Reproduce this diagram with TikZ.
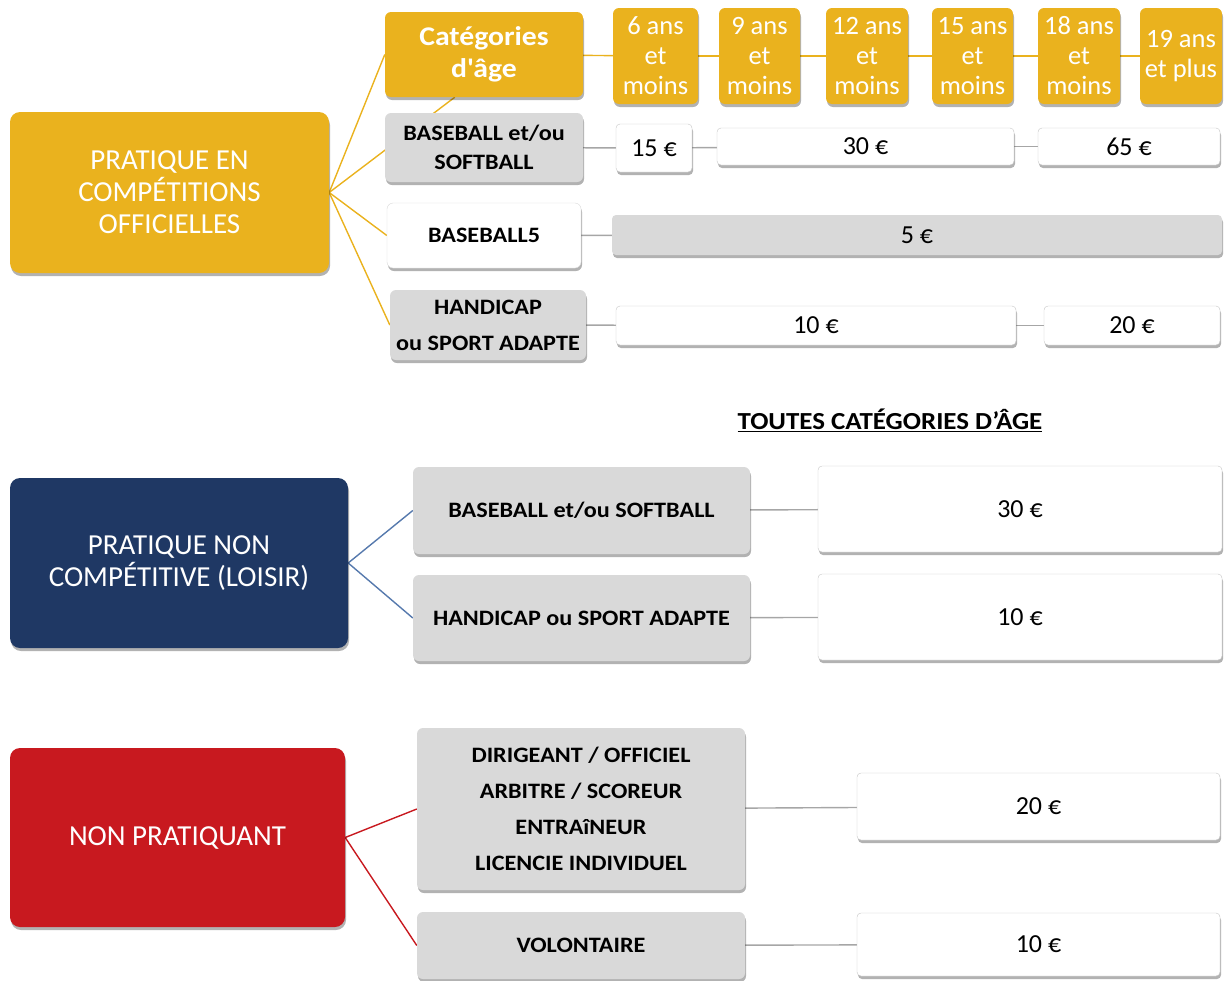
\documentclass[tikz,border=0pt]{standalone}
\usepackage{fontspec}
\setmainfont{Carlito}
\newfontfamily\gras{Carlito}[FakeStretch=1.1]
\usetikzlibrary{shadows,backgrounds}
\definecolor{jaune}{HTML}{EAB21E}
\definecolor{marine}{HTML}{1F3864}
\definecolor{rouge}{HTML}{C8191F}
\definecolor{gris}{HTML}{D9D9D9}
\definecolor{trait}{HTML}{A6A6A6}
\definecolor{bleu}{HTML}{5679AD}
\tikzset{
  ombre/.style={drop shadow={shadow xshift=1pt,shadow yshift=-3pt,opacity=.3,fill=black}},
  bloc/.style={ombre, rounded corners=10pt, text=white, align=center, inner sep=0pt,
    font=\fontsize{29}{32}\selectfont},
  age/.style={ombre, fill=jaune, rounded corners=6pt, text=white, align=center, inner sep=0pt,
    minimum height=96pt, font=\fontsize{26.5}{30}\selectfont},
  rubrique/.style={ombre, fill=gris, rounded corners=6pt, align=center, inner sep=0pt,
    font=\gras\bfseries\fontsize{22}{36}\selectfont},
  prix/.style={ombre, fill=white, draw=black!22, rounded corners=4pt, inner sep=0pt,
    font=\fontsize{26}{28}\selectfont},
  lien/.style={line width=1.4pt},
}
\begin{document}
\begin{tikzpicture}[x=1pt,y=-1pt]
\useasboundingbox (0,0) rectangle (1228,980);
% competitions officielles
\node[bloc, fill=jaune, minimum width=319pt, minimum height=161pt] (PC) at (169.5,192.5) {PRATIQUE EN\\COMPÉTITIONS\\OFFICIELLES};
\node[rubrique, fill=jaune, text=white, minimum width=198pt, minimum height=85pt,
  font=\gras\bfseries\fontsize{27}{32}\selectfont] (CAT) at (484,54.5) {Catégories\\d\textquotesingle âge};
\foreach \n/\x/\w/\t in {A6/655.5/85/{6 ans\\et\\moins}, A9/759.5/81/{9 ans\\et\\moins},
  A12/867/82/{12 ans\\et\\moins}, A15/972.5/81/{15 ans\\et\\moins},
  A18/1079/82/{18 ans\\et\\moins}, A19/1181/82/{19 ans\\et plus}}
  \node[age, minimum width=\w pt] (\n) at (\x,56) {\t};
\node[rubrique, minimum width=198pt, minimum height=69pt, font=\gras\bfseries\fontsize{22}{29}\selectfont] (BB) at (484,147.5) {BASEBALL et/ou\\SOFTBALL};
\node[rubrique, fill=white, draw=black!15, minimum width=194pt, minimum height=65pt] (B5) at (484,235.5) {BASEBALL5};
\node[rubrique, minimum width=196pt, minimum height=70pt] (HC) at (488,325) {HANDICAP\\ou SPORT ADAPTE};
\node[prix, minimum width=76pt, minimum height=48pt] (P15) at (654,148) {15 €};
\node[prix, minimum width=297pt, minimum height=37pt] (P30) at (865.5,146.5) {30 €};
\node[prix, minimum width=182pt, minimum height=37pt] (P65) at (1129,146.5) {65 €};
\node[prix, fill=gris, draw=none, minimum width=610pt, minimum height=40pt] (P5) at (917,235) {5 €};
\node[prix, minimum width=400pt, minimum height=39pt] (P10) at (816,325.5) {10 €};
\node[prix, minimum width=176pt, minimum height=39pt] (P20) at (1132,325.5) {20 €};
\node[font=\gras\bfseries\fontsize{24.5}{26}\selectfont] (TT) at (890,420) {\underline{TOUTES CATÉGORIES D’ÂGE}};
% loisir
\node[bloc, fill=marine, minimum width=338pt, minimum height=170pt] (PL) at (179,563) {PRATIQUE NON\\COMPÉTITIVE (LOISIR)};
\node[rubrique, minimum width=337pt, minimum height=87pt] (LB) at (581.5,510.5) {BASEBALL et/ou SOFTBALL};
\node[rubrique, minimum width=337pt, minimum height=86pt] (LH) at (581.5,618) {HANDICAP ou SPORT ADAPTE};
\node[prix, minimum width=404pt, minimum height=86pt] (L30) at (1020,509) {30 €};
\node[prix, minimum width=404pt, minimum height=86pt] (L10) at (1020,617) {10 €};
% non pratiquant
\node[bloc, fill=rouge, minimum width=335pt, minimum height=179pt] (NP) at (177.5,837.5) {NON PRATIQUANT};
\node[rubrique, minimum width=328pt, minimum height=162pt] (DIR) at (581,809) {DIRIGEANT / OFFICIEL\\ARBITRE / SCOREUR\\ENTRAîNEUR\\LICENCIE INDIVIDUEL};
\node[rubrique, minimum width=328pt, minimum height=67pt] (VOL) at (581,945.5) {VOLONTAIRE};
\node[prix, minimum width=363pt, minimum height=67pt] (N20) at (1038.5,806.5) {20 €};
\node[prix, minimum width=363pt, minimum height=63pt] (N10) at (1038.5,944.5) {10 €};
\begin{scope}[on background layer]
\path[lien, jaune] (PC.east) edge (CAT.west) (PC.east) edge ([xshift=70pt]CAT.south west)
  (PC.east) edge (B5.west) (PC.east) edge (HC.west) (CAT) edge (A6);
\foreach \a/\b in {A6/A9, A9/A12, A12/A15, A15/A18, A18/A19}
  \draw[lien, jaune] (\a) -- (\b);
\path[lien, trait] (BB) edge (P15) (P15) edge (P30) (P30) edge (P65)
  (B5) edge (P5) (HC) edge (P10) (P10) edge (P20);
\path[lien, bleu] (PL.east) edge (LB.west) (PL.east) edge (LH.west);
\path[lien, trait] (LB) edge (L30) (LH) edge (L10);
\path[lien, rouge] (NP.east) edge (DIR.west) (NP.east) edge (VOL.west);
\path[lien, trait] (DIR) edge (N20) (VOL) edge (N10);
\end{scope}
\end{tikzpicture}
\end{document}
